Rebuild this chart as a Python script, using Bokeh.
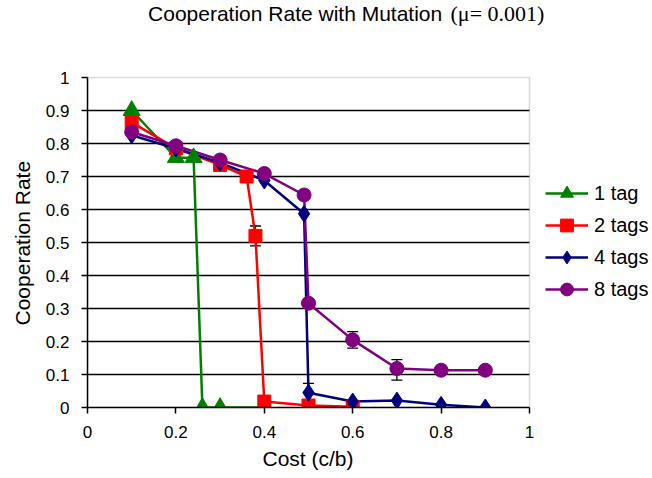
from bokeh.plotting import figure
from bokeh.models import (Range1d, ColumnDataSource, Whisker, TeeHead, Legend,
                          LegendItem, FixedTicker, Label, BoxAnnotation, Title)
from bokeh.embed import file_html
from bokeh.resources import INLINE

# ---- data ----
tag1_x = [0.1, 0.2, 0.24, 0.26, 0.3, 0.4]
tag1_y = [0.90, 0.757, 0.757, 0.0, 0.0, 0.0]

tag2_x = [0.1, 0.2, 0.3, 0.36, 0.38, 0.4, 0.5, 0.6]
tag2_y = [0.864, 0.785, 0.735, 0.70, 0.52, 0.018, 0.006, 0.002]

tag4_x = [0.1, 0.2, 0.3, 0.4, 0.49, 0.5, 0.6, 0.7, 0.8, 0.9]
tag4_y = [0.825, 0.785, 0.742, 0.688, 0.587, 0.045, 0.018, 0.021, 0.008, 0.0]

tag8_x = [0.1, 0.2, 0.3, 0.4, 0.49, 0.5, 0.6, 0.7, 0.8, 0.9]
tag8_y = [0.835, 0.793, 0.75, 0.709, 0.644, 0.316, 0.205, 0.118, 0.113, 0.113]

err_x = [0.38, 0.5, 0.6, 0.7]
err_lower = [0.49, 0.018, 0.18, 0.083]
err_upper = [0.55, 0.073, 0.23, 0.145]

x_ticks = [0, 0.2, 0.4, 0.6, 0.8, 1]
y_ticks = [0, 0.1, 0.2, 0.3, 0.4, 0.5, 0.6, 0.7, 0.8, 0.9, 1]
grid_ticks = [0.1, 0.2, 0.3, 0.4, 0.5, 0.6, 0.7, 0.8, 0.9]

title_main = "Cooperation Rate with Mutation"
title_mu = "(\u03bc= 0.001)"
x_label = "Cost (c/b)"
y_label = "Cooperation Rate"
series_labels = ["1 tag", "2 tags", "4 tags", "8 tags"]

# ---- layout constants (pixels) ----
W, H = 652, 478
LEFT, BOTTOM = 87, 71
PLOT_W, PLOT_H = 442, 330          # size of the 0..1 x 0..1 plot area
x_end = (W - LEFT) / PLOT_W        # frame extends right to hold the legend
y_end = (H - BOTTOM) / PLOT_H      # and up to hold the title

SANS = "Liberation Sans"
SERIF = "Liberation Serif"

p = figure(width=W, height=H, output_backend="svg", toolbar_location=None,
           title=None,
           x_range=Range1d(0, x_end), y_range=Range1d(0, y_end),
           min_border_left=LEFT, min_border_right=0,
           min_border_top=0, min_border_bottom=BOTTOM)
p.outline_line_color = None
p.background_fill_color = "white"
p.border_fill_color = "white"

p.xgrid.visible = False
p.ygrid.ticker = FixedTicker(ticks=grid_ticks)
p.ygrid.grid_line_color = "black"
p.ygrid.grid_line_width = 1.3

p.xaxis.ticker = FixedTicker(ticks=x_ticks)
p.yaxis.ticker = FixedTicker(ticks=y_ticks)
p.xaxis.bounds = (0, 1)
p.yaxis.bounds = (0, 1)
p.xaxis.major_label_overrides = {0: "0", 1: "1"}
p.yaxis.major_label_overrides = {0: "0", 1: "1"}
for ax in (p.xaxis, p.yaxis):
    ax.axis_line_color = "black"
    ax.axis_line_width = 1.5
    ax.major_tick_line_color = "black"
    ax.major_tick_line_width = 1.5
    ax.major_tick_out = 6
    ax.major_tick_in = 0
    ax.minor_tick_line_color = None
    ax.major_label_text_font = SANS
    ax.major_label_text_font_size = "17px"
    ax.major_label_text_color = "black"
p.xaxis.major_label_standoff = 12
p.yaxis.major_label_standoff = 12

# axis titles, positioned along the 0..1 plot area
p.add_layout(Title(text=x_label, align="left", offset=175, standoff=9,
                   text_font=SANS, text_font_size="21px",
                   text_font_style="normal", text_color="black"), "below")
p.add_layout(Title(text=y_label, align="left", offset=82, standoff=17,
                   text_font=SANS, text_font_size="21px",
                   text_font_style="normal", text_color="black"), "left")

# mask grid lines right of the plot area, then draw the plot-area border
p.add_layout(BoxAnnotation(left=1, bottom=0, top=1, fill_color="white",
                           fill_alpha=1, line_alpha=0, level="underlay"))
p.add_layout(BoxAnnotation(left=0, right=1, bottom=0, top=1, fill_alpha=0,
                           line_color="#808080", line_width=1.5,
                           level="underlay"))

# ---- series ----
series = [
    (tag1_x, tag1_y, "#008000", "triangle", 17),
    (tag2_x, tag2_y, "#FF0000", "square", 13),
    (tag4_x, tag4_y, "#000080", "diamond", 17),
    (tag8_x, tag8_y, "#800080", "circle", 14),
]

err_src = ColumnDataSource(dict(x=err_x, lower=err_lower, upper=err_upper))
items = []
renderers = []
for (xs, ys, color, marker, size), lab in zip(series, series_labels):
    src = ColumnDataSource(dict(x=xs, y=ys))
    l = p.line("x", "y", source=src, line_color=color, line_width=2.5)
    renderers.append((l, src, color, marker, size, lab))

p.add_layout(Whisker(source=err_src, base="x", lower="lower", upper="upper",
                     dimension="height", line_color="black", line_width=1.3,
                     upper_head=TeeHead(size=11, line_color="black", line_width=1.3),
                     lower_head=TeeHead(size=11, line_color="black", line_width=1.3)))

for l, src, color, marker, size, lab in renderers:
    s = p.scatter("x", "y", source=src, marker=marker, size=size,
                  fill_color=color, line_color=color)
    items.append(LegendItem(label=lab, renderers=[l, s]))

legend = Legend(items=items, location=(458, 102), orientation="vertical",
                padding=0, margin=0, spacing=0,
                glyph_width=43, glyph_height=32, label_height=32,
                label_standoff=6, border_line_color=None,
                background_fill_alpha=0,
                label_text_font=SANS, label_text_font_size="20px",
                label_text_color="black")
p.add_layout(legend, "center")

# ---- chart title (two fonts) ----
p.add_layout(Label(x=0.8025, y=1.194, text=title_main, text_align="right",
                   text_baseline="alphabetic", text_font=SANS,
                   text_font_size="21px", text_color="black"))
p.add_layout(Label(x=0.8213, y=1.194, text=title_mu, text_align="left",
                   text_baseline="alphabetic", text_font=SERIF,
                   text_font_size="22px", text_color="black"))

open("out.html", "w").write(file_html(p, INLINE))
